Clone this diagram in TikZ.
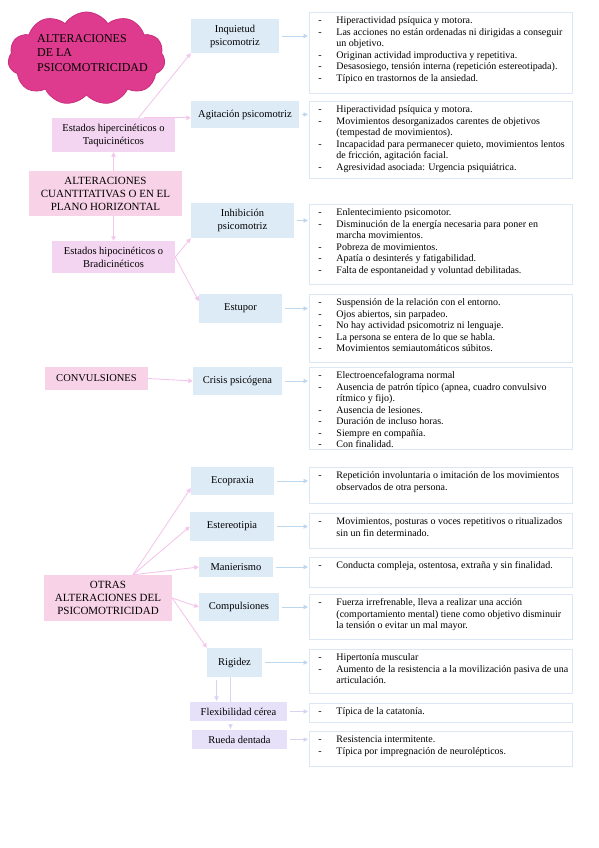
\documentclass[tikz,border=0pt]{standalone}
\usepackage{fontspec}
\setmainfont{Liberation Serif}
\usetikzlibrary{arrows.meta,calc,shapes.symbols}
\definecolor{nube}{HTML}{DE3A8E}
\definecolor{nubeborde}{HTML}{C92F7D}
\definecolor{rosaa}{HTML}{F8D3E8}
\definecolor{rosab}{HTML}{F3D5F1}
\definecolor{azulc}{HTML}{DDEBF7}
\definecolor{lilac}{HTML}{E6E1F8}
\definecolor{bordeazul}{HTML}{DCE7F5}
\definecolor{rosaf}{HTML}{F4C6EC}
\definecolor{azulf}{HTML}{BDD7EE}
\definecolor{lilaf}{HTML}{D9D3F3}
% dash item of a description list, and a continued line
\newcommand{\guion}[1]{\par\noindent\makebox[18pt][l]{-}\mbox{#1}}
\newcommand{\sigue}[1]{\par\noindent\hspace*{18pt}\mbox{#1}}

\begin{document}
\begin{tikzpicture}[x=1pt, y=-1pt,
    etiq/.style={rectangle, align=center, inner sep=1pt, font=\fontsize{10.5}{13}\selectfont},
    rosaaa/.style={etiq, fill=rosaa},
    rosabb/.style={etiq, fill=rosab},
    azulbox/.style={etiq, fill=azulc},
    lilabox/.style={etiq, fill=lilac},
    descbox/.style={rectangle, fill=white, draw=bordeazul, line width=0.9pt, minimum width=263pt,
      inner xsep=0pt, inner ysep=4.5pt, font=\fontsize{10}{11.5}\selectfont},
    flecharosa/.style={draw=rosaf, line width=0.9pt, -{Triangle[length=4.5pt,width=4.5pt]}},
    flechaazul/.style={draw=azulf, line width=0.9pt, shorten <=3pt, shorten >=1pt, -{Triangle[length=4.5pt,width=4.5pt]}},
    flechalila/.style={draw=lilaf, line width=0.9pt, shorten <=3pt, shorten >=1pt, -{Triangle[length=4.5pt,width=4.5pt]}},
    lineal/.style={draw=lilaf, line width=0.9pt}]
  \useasboundingbox (0,0) rectangle (599,848);
  % description box: name, top, height, lines
  \newcommand{\descaja}[4]{
    \node[descbox, minimum height=#3pt, anchor=north west] (#1) at (309,#2)
      {\parbox[t][\dimexpr #3pt-9pt\relax][t]{245pt}{#4}};}
  %%% title cloud
  \node[cloud, cloud puffs=11, cloud puff arc=115, aspect=1.7, fill=nube, draw=nubeborde, line width=0.8pt,
    minimum width=157pt, minimum height=93pt, inner sep=0pt,
    label={[font=\fontsize{12}{14.5}\selectfont, align=left, xshift=6pt, yshift=5.5pt]center:{ALTERACIONES\\DE LA\\PSICOMOTRICIDAD}}]
    (titulo) at (86.5,58.5) {};
  %%% left column
  \node[rosabb, minimum width=123pt, minimum height=34pt] (hiper) at (113.5,135) {Estados hipercinéticos o\\Taquicinéticos};
  \node[rosaaa, minimum width=153pt, minimum height=45pt, font=\fontsize{11}{13}\selectfont] (cuant) at (105.5,193.5)
    {ALTERACIONES\\CUANTITATIVAS O EN EL\\PLANO HORIZONTAL};
  \node[rosabb, minimum width=123pt, minimum height=32pt] (hipo) at (113.5,257) {Estados hipocinéticos o\\Bradicinéticos};
  \node[rosaaa, minimum width=103pt, minimum height=23pt] (conv) at (96.5,378.5) {CONVULSIONES};
  \node[rosaaa, minimum width=128pt, minimum height=46pt, font=\fontsize{11}{13}\selectfont] (otras) at (108,598)
    {OTRAS\\ALTERACIONES DEL\\PSICOMOTRICIDAD};
  %%% middle column
  \node[azulbox, minimum width=88pt, minimum height=34pt] (inq) at (235,36) {Inquietud\\psicomotriz};
  \node[azulbox, minimum width=108pt, minimum height=27pt] (agit) at (245,114.5) {Agitación psicomotriz};
  \node[azulbox, minimum width=103pt, minimum height=35pt] (inhib) at (242.5,220.5) {Inhibición\\psicomotriz};
  \node[azulbox, minimum width=83pt, minimum height=29pt] (estu) at (240.5,308.5) {Estupor};
  \node[azulbox, minimum width=89pt, minimum height=28pt] (crisis) at (237.5,381) {Crisis psicógena};
  \node[azulbox, minimum width=83pt, minimum height=28pt] (eco) at (232.5,481) {Ecopraxia};
  \node[azulbox, minimum width=84pt, minimum height=29pt] (este) at (232,526.5) {Estereotipia};
  \node[azulbox, minimum width=74pt, minimum height=20pt] (mani) at (236,567) {Manierismo};
  \node[azulbox, minimum width=80pt, minimum height=28pt] (comp) at (239,607) {Compulsiones};
  \node[azulbox, minimum width=55pt, minimum height=29pt] (rig) at (234.5,662.5) {Rigidez};
  \node[lilabox, minimum width=97pt, minimum height=19pt] (flex) at (238.5,711.5) {Flexibilidad cérea};
  \node[lilabox, minimum width=95pt, minimum height=19pt] (rueda) at (239.5,739.5) {Rueda dentada};
  %%% right column
  \descaja{d1}{12}{81}{\guion{Hiperactividad psíquica y motora.}
    \guion{Las acciones no están ordenadas ni dirigidas a conseguir}\sigue{un objetivo.}
    \guion{Originan actividad improductiva y repetitiva.}
    \guion{Desasosiego, tensión interna (repetición estereotipada).}
    \guion{Típico en trastornos de la ansiedad.}}
  \descaja{d2}{101}{77}{\guion{Hiperactividad psíquica y motora.}
    \guion{Movimientos desorganizados carentes de objetivos}\sigue{(tempestad de movimientos).}
    \guion{Incapacidad para permanecer quieto, movimientos lentos}\sigue{de fricción, agitación facial.}
    \guion{Agresividad asociada: Urgencia psiquiátrica.}}
  \descaja{d3}{204}{80}{\guion{Enlentecimiento psicomotor.}
    \guion{Disminución de la energía necesaria para poner en}\sigue{marcha movimientos.}
    \guion{Pobreza de movimientos.}
    \guion{Apatía o desinterés y fatigabilidad.}
    \guion{Falta de espontaneidad y voluntad debilitadas.}}
  \descaja{d4}{294}{68}{\guion{Suspensión de la relación con el entorno.}
    \guion{Ojos abiertos, sin parpadeo.}
    \guion{No hay actividad psicomotriz ni lenguaje.}
    \guion{La persona se entera de lo que se habla.}
    \guion{Movimientos semiautomáticos súbitos.}}
  \descaja{d5}{367}{82}{\guion{Electroencefalograma normal}
    \guion{Ausencia de patrón típico (apnea, cuadro convulsivo}\sigue{rítmico y fijo).}
    \guion{Ausencia de lesiones.}
    \guion{Duración de incluso horas.}
    \guion{Siempre en compañía.}
    \guion{Con finalidad.}}
  \descaja{d6}{467}{36}{\guion{Repetición involuntaria o imitación de los movimientos}\sigue{observados de otra persona.}}
  \descaja{d7}{513}{35}{\guion{Movimientos, posturas o voces repetitivos o ritualizados}\sigue{sin un fin determinado.}}
  \descaja{d8}{557}{30}{\guion{Conducta compleja, ostentosa, extraña y sin finalidad.}}
  \descaja{d9}{594}{45}{\guion{Fuerza irrefrenable, lleva a realizar una acción}
    \sigue{(comportamiento mental) tiene como objetivo disminuir}\sigue{la tensión o evitar un mal mayor.}}
  \descaja{d10}{649}{44}{\guion{Hipertonía muscular}
    \guion{Aumento de la resistencia a la movilización pasiva de una}\sigue{articulación.}}
  \descaja{d11}{703}{19}{\guion{Típica de la catatonía.}}
  \descaja{d12}{731}{35}{\guion{Resistencia intermitente.}
    \guion{Típica por impregnación de neurolépticos.}}
  %%% pink connectors
  \draw[flecharosa] ([xshift=25pt]hiper.north) -- (inq.south west);
  \draw[flecharosa] ([xshift=30pt]hiper.north) -- (agit.west |- hiper.north);
  \draw[flecharosa] (hiper.south |- cuant.north) -- (hiper.south);
  \draw[flecharosa] (hipo.north |- cuant.south) -- (hipo.north);
  \draw[flecharosa] (hipo.east) -- (inhib.south west);
  \draw[flecharosa] (hipo.east) -- ($(estu.north west)!0.25!(estu.south west)$);
  \draw[flecharosa] (conv.east) -- (crisis.west);
  \draw[flecharosa] ([xshift=25pt]otras.north) -- ($(eco.west)!0.5!(eco.south west)$);
  \draw[flecharosa] ([xshift=25pt]otras.north) -- (este.west);
  \draw[flecharosa] ([xshift=25pt]otras.north) -- (mani.west);
  \draw[flecharosa] (otras.east) -- (comp.west);
  \draw[flecharosa] (otras.east) -- (rig.north west);
  %%% blue connectors
  \draw[flechaazul] (inq.east) -- (inq.east -| d1.west);
  \draw[flechaazul] (agit.east) -- (agit.east -| d2.west);
  \draw[flechaazul] (inhib.east) -- (inhib.east -| d3.west);
  \draw[flechaazul] (estu.east) -- (estu.east -| d4.west);
  \draw[flechaazul] (crisis.east) -- (crisis.east -| d5.west);
  \draw[flechaazul] (eco.east) -- (eco.east -| d6.west);
  \draw[flechaazul] (este.east) -- (este.east -| d7.west);
  \draw[flechaazul] (mani.east) -- (mani.east -| d8.west);
  \draw[flechaazul] (comp.east) -- (comp.east -| d9.west);
  \draw[flechaazul] (rig.east) -- (rig.east -| d10.west);
  \draw[flechalila] (flex.east) -- (flex.east -| d11.west);
  \draw[flechalila] (rueda.east) -- (rueda.east -| d12.west);
  %%% rigidity branches
  \draw[flechalila] ([xshift=-18pt]rig.south) -- ([xshift=-18pt]rig.south |- flex.north);
  \draw[lineal] ([xshift=-4pt]rig.south) -- ([xshift=-4pt]rig.south |- flex.north);
  \draw[flechalila] ([xshift=-4pt]rig.south |- flex.south) -- ([xshift=-4pt]rig.south |- rueda.north);
\end{tikzpicture}
\end{document}
